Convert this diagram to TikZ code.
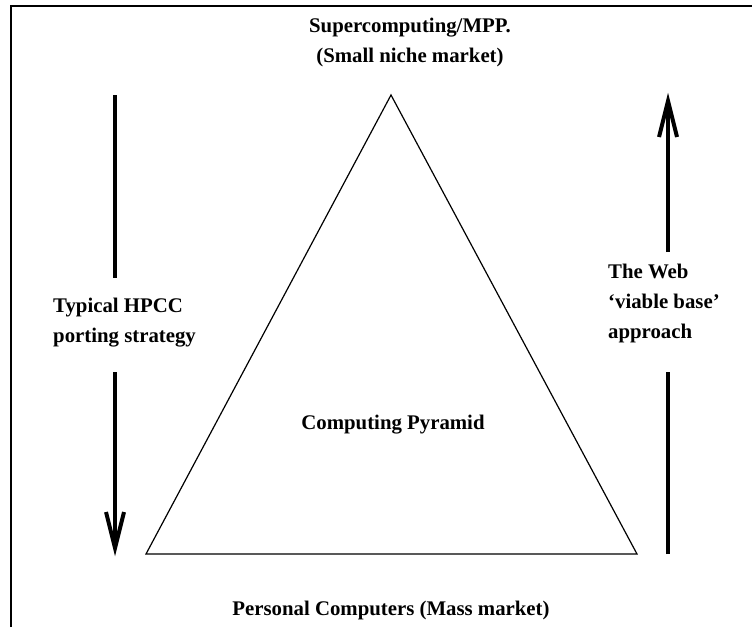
\documentclass[tikz,border=0pt]{standalone}
\usepackage{fontspec}
\setmainfont{Liberation Serif}
\begin{document}
\begin{tikzpicture}[x=1pt,y=-1pt,
  lbl/.style={font=\fontsize{20.8}{30}\selectfont\bfseries, inner sep=0pt},
  frameline/.style={line width=2.2pt},
  shaft/.style={line width=4pt},
  tri/.style={line width=1.2pt, line join=miter}]
\useasboundingbox (0,0) rectangle (752,627);
% frame (left and top)
\coordinate (fbl) at (11,627);
\coordinate (ftl) at (11,6);
\coordinate (ftr) at (752,6);
\draw[frameline] (fbl) -- (ftl) -- (ftr);
% pyramid
\coordinate (apex) at (391,95);
\coordinate (bl) at (146,554);
\coordinate (br) at (637,554);
\draw[tri] (apex) -- (bl) -- (br) -- cycle;
% labels
\node[lbl, align=center] (top) at (410,42) {Supercomputing/MPP.\\(Small niche market)};
\node[lbl] (mid) at (393,425) {Computing Pyramid};
\node[lbl] (bot) at (391,610) {Personal Computers (Mass market)};
\node[lbl, align=left, anchor=west] (ltxt) at (53,323) {Typical HPCC\\porting strategy};
\node[lbl, align=left, anchor=west] (rtxt) at (608,303) {The Web\\`viable base'\\approach};
% left arrow (downwards)
\coordinate (la1) at (115,95);
\coordinate (la2) at (115,278);
\coordinate (la3) at (115,372);
\coordinate (ltip) at (115,548);
\coordinate (lh1) at (106,512);
\coordinate (lh2) at (124,512);
\draw[shaft] (la1) -- (la2);
\draw[shaft] (la3) -- (ltip);
\draw[shaft, line join=miter] (lh1) -- (ltip) -- (lh2);
% right arrow (upwards)
\coordinate (ra1) at (668,554);
\coordinate (ra2) at (668,372);
\coordinate (ra3) at (668,252);
\coordinate (rtip) at (668,101);
\coordinate (rh1) at (659,137);
\coordinate (rh2) at (677,137);
\draw[shaft] (ra1) -- (ra2);
\draw[shaft] (ra3) -- (rtip);
\draw[shaft, line join=miter] (rh1) -- (rtip) -- (rh2);
\end{tikzpicture}
\end{document}
